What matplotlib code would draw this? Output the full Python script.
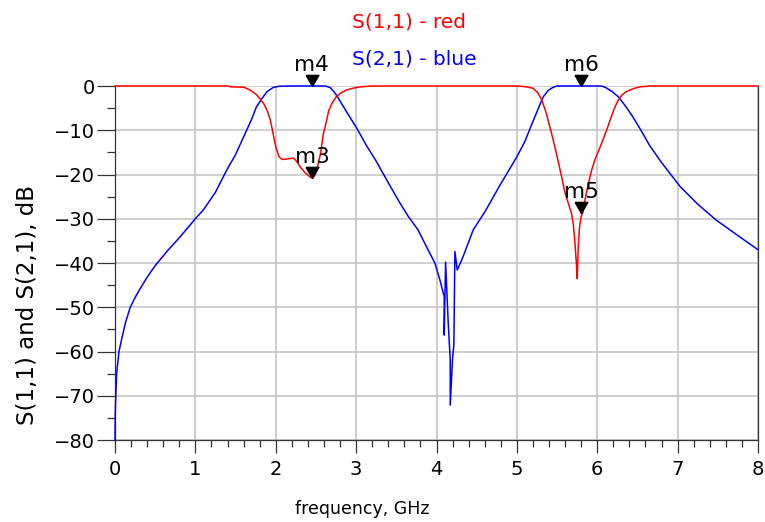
import matplotlib
matplotlib.use("Agg")
import matplotlib.pyplot as plt
from matplotlib.ticker import MultipleLocator
import numpy as np

# ---- data ----
s21_freq = [0.0, 0.003, 0.01, 0.02, 0.05, 0.085, 0.13, 0.19, 0.25, 0.3, 0.4, 0.5, 0.65, 0.8,
            1.0, 1.1, 1.25, 1.39, 1.5, 1.6, 1.7, 1.76, 1.83, 1.89, 1.97, 2.05, 2.2, 2.45, 2.6,
            2.63, 2.68, 2.72, 2.76, 2.82, 2.88, 3.0, 3.13, 3.25, 3.42, 3.54, 3.65, 3.77,
            3.88, 3.98, 4.042, 4.08, 4.096, 4.096, 4.113, 4.146, 4.171, 4.171, 4.2, 4.216,
            4.229, 4.258, 4.33, 4.457, 4.6, 4.79, 5.0, 5.1, 5.2, 5.28, 5.33, 5.39, 5.45,
            5.5, 5.8, 6.05, 6.1, 6.18, 6.26, 6.35, 6.44, 6.55, 6.65, 6.8, 7.03, 7.25, 7.48,
            7.75, 8.0]
s21_db = [-80.0, -74.0, -70.0, -65.0, -60.0, -57.0, -53.5, -50.0, -47.8, -46.2, -43.2, -40.6,
          -37.3, -34.3, -30.0, -28.0, -24.0, -19.0, -15.5, -11.5, -7.5, -4.7, -2.8, -1.3,
          -0.3, -0.05, 0.0, 0.0, 0.0, -0.05, -0.4, -1.2, -2.2, -4.0, -5.8, -9.3, -13.5,
          -17.0, -22.5, -26.3, -29.5, -32.5, -36.5, -40.0, -43.8, -46.5, -47.6, -56.3,
          -39.8, -53.6, -61.9, -72.1, -61.5, -58.5, -37.4, -41.6, -38.6, -32.5, -28.5,
          -22.4, -16.0, -12.5, -8.0, -4.5, -2.4, -1.0, -0.3, 0.0, 0.0, 0.0, -0.3, -1.2,
          -2.4, -4.5, -6.9, -10.2, -13.4, -17.3, -22.7, -26.7, -30.3, -33.8, -37.0]

s11_freq = [0.0, 1.40, 1.45, 1.6, 1.68, 1.75, 1.80, 1.85, 1.89, 1.93, 1.95, 1.98, 2.0, 2.04,
            2.08, 2.14, 2.22, 2.26, 2.30, 2.36, 2.43, 2.46, 2.49, 2.51, 2.53, 2.56, 2.59,
            2.63, 2.66, 2.70, 2.75, 2.80, 2.88, 2.96, 3.05, 3.2, 5.0, 5.04, 5.12, 5.2, 5.26,
            5.31, 5.36, 5.41, 5.46, 5.51, 5.56, 5.6, 5.64, 5.68, 5.70, 5.72, 5.74, 5.75,
            5.765, 5.78, 5.80, 5.82, 5.85, 5.89, 5.93, 5.97, 6.02, 6.07, 6.12, 6.16, 6.21,
            6.26, 6.31, 6.36, 6.45, 6.53, 6.65, 8.0]
s11_db = [0.0, 0.0, -0.2, -0.25, -0.9, -1.8, -2.8, -4.0, -5.4, -7.5, -9.2, -12.0, -13.7,
          -16.0, -16.6, -16.5, -16.3, -17.0, -18.2, -19.5, -20.6, -20.8, -20.0, -19.0, -17.5,
          -15.0, -11.0, -8.0, -5.5, -3.9, -2.5, -1.7, -0.9, -0.5, -0.2, 0.0, 0.0, -0.05,
          -0.2, -0.5, -1.5, -3.2, -5.8, -9.2, -12.8, -16.7, -20.8, -24.2, -26.5, -28.8,
          -31.0, -34.8, -40.0, -43.5, -36.0, -31.8, -29.5, -28.6, -25.5, -22.0, -19.0,
          -16.7, -14.5, -12.2, -9.8, -7.7, -5.2, -3.2, -2.0, -1.3, -0.6, -0.2, 0.0, 0.0]

marker_names = ["m3", "m4", "m5", "m6"]
marker_freq = [2.45, 2.45, 5.8, 5.8]
marker_db = [-20.8, 0.0, -28.7, 0.0]

x_ticks = [0, 1, 2, 3, 4, 5, 6, 7, 8]
y_ticks = [0, -10, -20, -30, -40, -50, -60, -70, -80]

# ---- figure ----
fig = plt.figure(figsize=(7.65, 5.22), dpi=100)
fig.patch.set_facecolor("white")
ax = fig.add_axes([115/765, 1-440/522, (758-115)/765, (440-86)/522])

ax.plot(s21_freq, s21_db, color="#0000ff", lw=1.1, clip_on=False, zorder=3)
ax.plot(s11_freq, s11_db, color="#ff0000", lw=1.1, clip_on=False, zorder=4)

tri = [(-0.577, 1.0), (0.577, 1.0), (0.0, 0.0), (-0.577, 1.0)]
for name, fx, fy in zip(marker_names, marker_freq, marker_db):
    ax.plot([fx], [fy], marker=tri, markersize=16, color="black", ls="none",
            clip_on=False, zorder=6)
    ax.annotate(name, xy=(fx, fy), xytext=(0, 11), textcoords="offset points",
                ha="center", va="baseline", fontsize=15.5, color="black",
                family="DejaVu Sans", zorder=7, annotation_clip=False)

ax.set_xlim(0, 8)
ax.set_ylim(-80, 0)
ax.set_xticks(x_ticks)
ax.set_yticks(y_ticks)
ax.xaxis.set_minor_locator(MultipleLocator(0.2))
ax.yaxis.set_minor_locator(MultipleLocator(5))
ax.grid(True, which="major", color="#c6c6c6", lw=1.2, zorder=0)
ax.set_axisbelow(True)

for s in ax.spines.values():
    s.set_color("#333333")
    s.set_linewidth(0.9)
ax.spines["top"].set_visible(False)

ax.tick_params(axis="y", which="major", direction="out", length=13, width=0.9,
               color="#333333", labelsize=14, pad=1.5)
ax.tick_params(axis="y", which="minor", direction="out", length=6, width=0.9, color="#333333")
ax.tick_params(axis="x", which="major", direction="out", length=9.5, width=0.9,
               color="#333333", labelsize=14, pad=5)
ax.tick_params(axis="x", which="minor", direction="out", length=5, width=0.9, color="#333333")
for lab in ax.get_xticklabels() + ax.get_yticklabels():
    lab.set_family("DejaVu Sans")

fig.text(362/765, 1-514/522, "frequency, GHz", ha="center", va="baseline",
         fontsize=12.5, family="DejaVu Sans")
fig.text(28/765, 1-305/522, "S(1,1) and S(2,1), dB", ha="center", va="center",
         rotation=90, fontsize=16.5, family="DejaVu Sans")
fig.text(352/765, 1-27/522, "S(1,1) - red", ha="left", va="baseline",
         fontsize=14.5, color="#ff0000", family="DejaVu Sans")
fig.text(352/765, 1-65/522, "S(2,1) - blue", ha="left", va="baseline",
         fontsize=14.5, color="#0000ff", family="DejaVu Sans")

fig.savefig("out.png", dpi=100, facecolor="white")
